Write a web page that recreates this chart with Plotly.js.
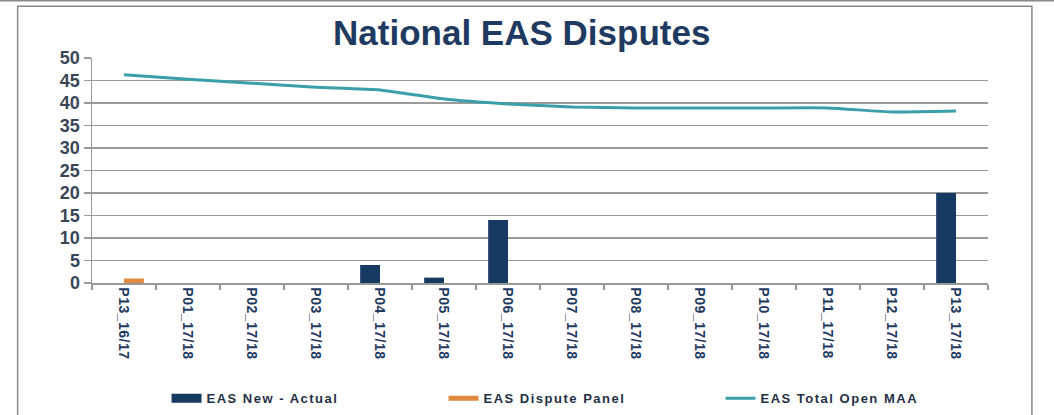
<!DOCTYPE html>
<html><head><meta charset="utf-8">
<script src="https://cdn.plot.ly/plotly-3.0.1.min.js"></script>
<style>html,body{margin:0;padding:0;background:#fff;}#chart{width:1054px;height:415px;}
.legendtext{letter-spacing:1.5px;}
.xtick text{letter-spacing:0.5px;}
</style>
</head><body><div id="chart"></div>
<script>
const categories = ["P13_16/17","P01_17/18","P02_17/18","P03_17/18","P04_17/18","P05_17/18","P06_17/18","P07_17/18","P08_17/18","P09_17/18","P10_17/18","P11_17/18","P12_17/18","P13_17/18"];
const newActual = [0,0,0,0,4,1.2,14,0,0,0,0,0,0,20];
const disputePanel = [1,0,0,0,0,0,0,0,0,0,0,0,0,0];
const totalOpenMAA = [46.3,45.3,44.4,43.5,42.9,40.9,39.8,39.1,38.9,38.9,38.9,38.9,38.0,38.2];
const seriesNames = ['EAS New - Actual','EAS Dispute Panel','EAS Total Open MAA'];
const seriesColors = ['#173a63','#e0893f','#3b9fab'];

const data = [
  {type:'bar', name:seriesNames[0], x:categories, y:newActual, marker:{color:seriesColors[0]}, showlegend:false},
  {type:'bar', name:seriesNames[1], x:categories, y:disputePanel, marker:{color:seriesColors[1]}, showlegend:false},
  {type:'scatter', mode:'lines', name:seriesNames[2], x:categories, y:totalOpenMAA,
   line:{color:seriesColors[2], width:3, shape:'spline', smoothing:0.4}, showlegend:false},
  // legend keys
  {type:'scatter', mode:'lines', name:seriesNames[0], x:[null], y:[null], line:{color:seriesColors[0], width:9}, hoverinfo:'skip'},
  {type:'scatter', mode:'lines', name:seriesNames[1], x:[null], y:[null], line:{color:seriesColors[1], width:5}, hoverinfo:'skip'},
  {type:'scatter', mode:'lines', name:seriesNames[2], x:[null], y:[null], line:{color:seriesColors[2], width:3}, hoverinfo:'skip'}
];

const layout = {
  width:1054, height:415,
  margin:{l:92, r:66, t:58, b:132, autoexpand:false},
  paper_bgcolor:'#fff', plot_bgcolor:'#fff',
  font:{family:'Arial, Liberation Sans, sans-serif', color:'#2b3b55'},
  title:{text:'<b>National EAS Disputes</b>', x:0.495, xanchor:'center', y:0.92, yanchor:'middle',
         font:{size:35, color:'#1f3a60', family:'Arial, Liberation Sans, sans-serif'}},
  barmode:'group', bargap:0.38, bargroupgap:0,
  showlegend:true,
  legend:{orientation:'h', xref:'container', x:0.158, xanchor:'left', yref:'container', y:0.04, yanchor:'middle',
          font:{size:13, color:'#1f2f45', weight:'bold'}, entrywidth:232, entrywidthmode:'pixels',
          traceorder:'normal', bgcolor:'rgba(0,0,0,0)'},
  xaxis:{type:'category', tickangle:90, automargin:false,
         tickfont:{size:14, color:'#1f3a60', family:'Arial, Liberation Sans, sans-serif', weight:'bold'},
         showgrid:false, showline:true, linecolor:'#999', linewidth:1.5,
         ticks:'outside', tickson:'boundaries', ticklen:5, tickcolor:'#999', tickwidth:1.5,
         zeroline:false, fixedrange:true},
  yaxis:{range:[0,50], dtick:5, automargin:false,
         tickfont:{size:18, color:'#3a4658', family:'Arial, Liberation Sans, sans-serif', weight:'bold'},
         showgrid:true, gridcolor:'#9a9a9a', gridwidth:1.5,
         showline:true, linecolor:'#999', linewidth:1.5,
         ticks:'outside', ticklen:7, tickcolor:'#999', tickwidth:1.5,
         zeroline:false, fixedrange:true},
  shapes:[
    {type:'rect', xref:'paper', yref:'paper', x0:-0.083, x1:1.049, y0:-0.65, y1:1.23,
     line:{color:'#8a8a8a', width:1.5}, fillcolor:'rgba(0,0,0,0)', layer:'below'},
    {type:'line', xref:'paper', yref:'paper', x0:-0.11, x1:1.08, y0:1.255, y1:1.255,
     line:{color:'#8a8a8a', width:1.5}, layer:'below'}
  ]
};

Plotly.newPlot('chart', data, layout, {displayModeBar:false, staticPlot:true});
</script></body></html>
